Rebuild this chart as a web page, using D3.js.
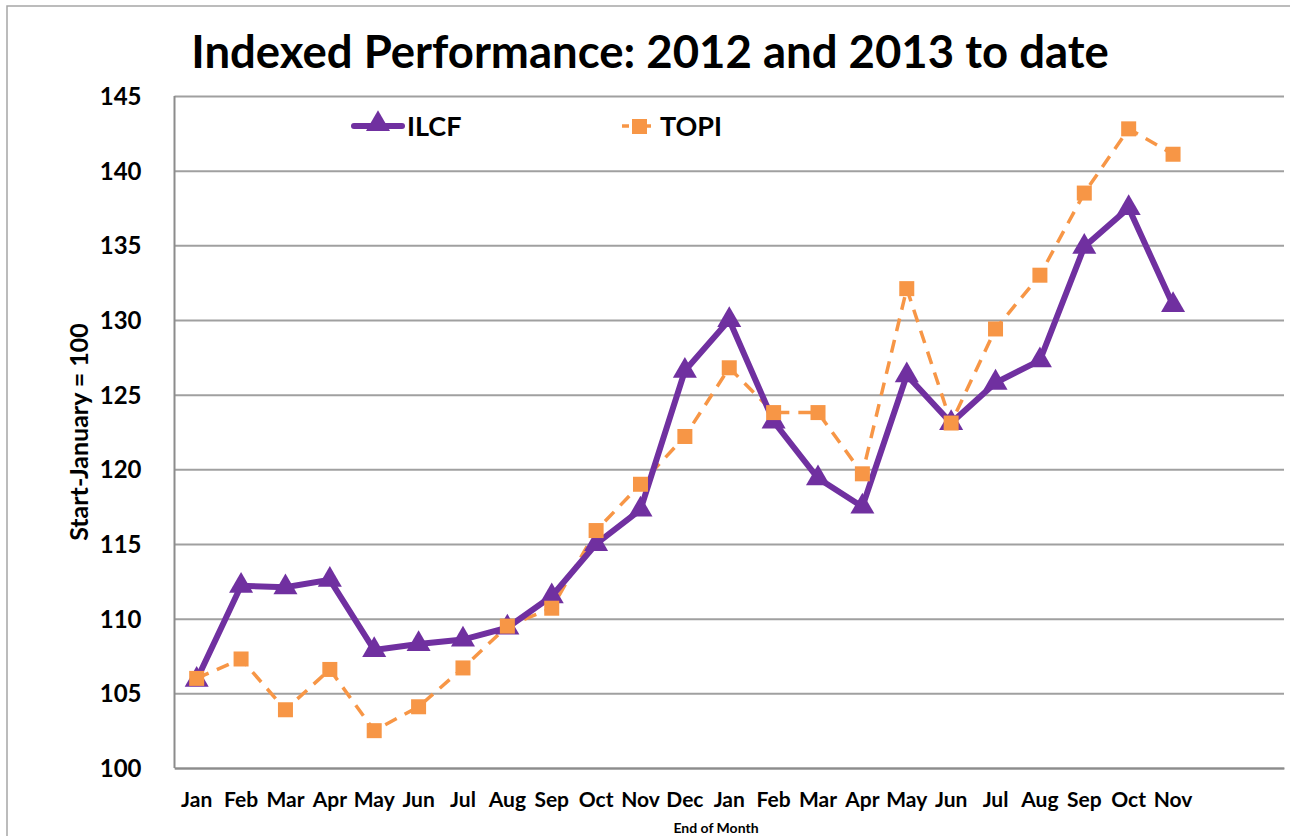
<!DOCTYPE html>
<html lang="en">
<head>
<meta charset="utf-8">
<script src="https://cdn.jsdelivr.net/npm/d3@7"></script>
<style>
  body { margin: 0; background: #fff; }
  svg text { font-family: Lato, "Open Sans", sans-serif; font-weight: bold; fill: #000; }
</style>
</head>
<body>
<script>
// month labels, 2012 Jan .. 2013 Nov (axis holds two empty slots at the end)
var months = ["Jan","Feb","Mar","Apr","May","Jun","Jul","Aug","Sep","Oct","Nov","Dec",
              "Jan","Feb","Mar","Apr","May","Jun","Jul","Aug","Sep","Oct","Nov"];
var slots = 25;

var ilcf = [105.9, 112.2, 112.1, 112.6, 107.9, 108.3, 108.6, 109.4, 111.5, 115.0, 117.3, 126.6,
            130.0, 123.2, 119.4, 117.5, 126.3, 123.1, 125.8, 127.3, 134.9, 137.5, 131.0];
var topi = [106.0, 107.3, 103.9, 106.6, 102.5, 104.1, 106.7, 109.5, 110.7, 115.9, 119.0, 122.2,
            126.8, 123.8, 123.8, 119.7, 132.1, 123.1, 129.4, 133.0, 138.5, 142.8, 141.1];

var yTicks = [100, 105, 110, 115, 120, 125, 130, 135, 140, 145];

var W = 1290, H = 836;
var plotL = 174.5, plotR = 1284, plotT = 96, plotB = 768;

var svg = d3.select("body").append("svg")
    .attr("width", W).attr("height", H);

// outer chart frame
svg.append("rect")
    .attr("x", 7).attr("y", 6)
    .attr("width", W + 20).attr("height", H + 20)
    .attr("fill", "none").attr("stroke", "#a6a6a6").attr("stroke-width", 1.5);

var x = d3.scaleBand().domain(d3.range(slots)).range([plotL, plotR]);
var y = d3.scaleLinear().domain([100, 145]).range([plotB, plotT]);

// gridlines + y labels
var yAxis = svg.append("g")
    .attr("transform", "translate(" + plotL + ",0)")
    .call(d3.axisLeft(y).tickValues(yTicks).tickSize(-(plotR - plotL)).tickPadding(33));
yAxis.select(".domain").remove();
yAxis.selectAll("line").attr("stroke", "#a0a0a0").attr("stroke-width", 2);
yAxis.selectAll("text").attr("font-size", 24).attr("dy", "0.36em");

// left axis line
svg.append("line")
    .attr("x1", plotL).attr("x2", plotL).attr("y1", plotT).attr("y2", plotB)
    .attr("stroke", "#8c8c8c").attr("stroke-width", 2);

// x labels
var xAxis = svg.append("g")
    .attr("transform", "translate(0," + plotB + ")")
    .call(d3.axisBottom(x).tickSize(0).tickPadding(24)
      .tickFormat(function(i) { return months[i] || ""; }));
xAxis.select(".domain").attr("stroke", "#8c8c8c").attr("stroke-width", 2);
xAxis.selectAll("text").attr("font-size", 21);

var cx = function(d, i) { return x(i) + x.bandwidth() / 2; };

// TOPI dashed line with squares
svg.append("path").datum(topi)
    .attr("fill", "none").attr("stroke", "#f79646").attr("stroke-width", 3.5)
    .attr("stroke-dasharray", "13,9")
    .attr("d", d3.line().x(cx).y(function(d) { return y(d); }));

// ILCF thick line with triangles
svg.append("path").datum(ilcf)
    .attr("fill", "none").attr("stroke", "#7030a0").attr("stroke-width", 6)
    .attr("stroke-linejoin", "miter")
    .attr("d", d3.line().x(cx).y(function(d) { return y(d); }));

var tri = d3.symbol().type(d3.symbolTriangle).size(250);
svg.selectAll(".tri").data(ilcf).enter().append("path")
    .attr("class", "tri")
    .attr("d", tri)
    .attr("transform", function(d, i) { return "translate(" + cx(d, i) + "," + y(d) + ")"; })
    .attr("fill", "#7030a0");

svg.selectAll(".sq").data(topi).enter().append("rect")
    .attr("class", "sq")
    .attr("x", function(d, i) { return cx(d, i) - 7.5; })
    .attr("y", function(d) { return y(d) - 7.5; })
    .attr("width", 15).attr("height", 15)
    .attr("fill", "#f79646");

// legend
var leg = svg.append("g");
leg.append("line").attr("x1", 354).attr("x2", 402).attr("y1", 126).attr("y2", 126)
    .attr("stroke", "#7030a0").attr("stroke-width", 6).attr("stroke-linecap", "round");
leg.append("path").attr("d", tri).attr("transform", "translate(378,124)").attr("fill", "#7030a0");
leg.append("text").attr("x", 407).attr("y", 136).attr("font-size", 27).text("ILCF");

leg.append("line").attr("x1", 622).attr("x2", 654).attr("y1", 126).attr("y2", 126)
    .attr("stroke", "#f79646").attr("stroke-width", 3.5).attr("stroke-dasharray", "7,4");
leg.append("rect").attr("x", 632).attr("y", 119).attr("width", 15).attr("height", 15)
    .attr("fill", "#f79646");
leg.append("text").attr("x", 660).attr("y", 136).attr("font-size", 27).text("TOPI");

// titles
svg.append("text").attr("x", 650).attr("y", 68).attr("text-anchor", "middle")
    .attr("font-size", 45.5).text("Indexed Performance: 2012 and 2013 to date");

svg.append("text")
    .attr("transform", "translate(88," + ((plotT + plotB) / 2) + ") rotate(-90)")
    .attr("text-anchor", "middle").attr("font-size", 25)
    .text("Start-January = 100");

svg.append("text").attr("x", 716).attr("y", 833).attr("text-anchor", "middle")
    .attr("font-size", 14).text("End of Month");
</script>
</body>
</html>
